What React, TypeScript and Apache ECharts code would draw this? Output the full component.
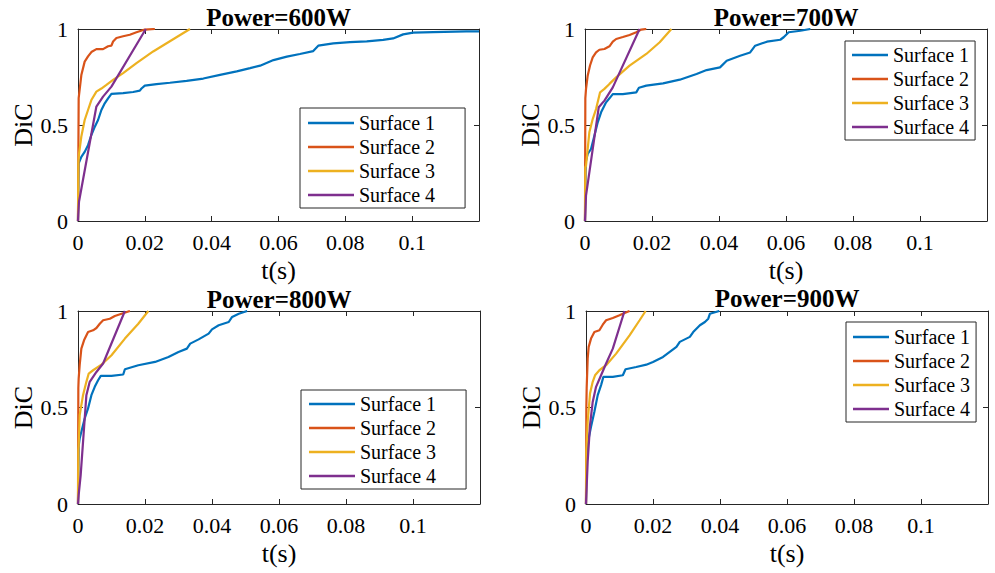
import React, { useEffect, useRef } from "react";
import * as echarts from "echarts";

// ---------- data (t in s, DiC) ----------
const titles = ["Power=600W", "Power=700W", "Power=800W", "Power=900W"];
const seriesNames = ["Surface 1", "Surface 2", "Surface 3", "Surface 4"];
const colors = ["#0072BD", "#D95319", "#EDB120", "#7E2F8E"];
const xTicks = [0, 0.02, 0.04, 0.06, 0.08, 0.1];
const yTicks = [0, 0.5, 1];

const p600s1 = [[0,0],[0.0002,0.3],[0.001,0.334],[0.002,0.36],[0.003,0.395],[0.004,0.448],[0.005,0.49],[0.006,0.526],[0.007,0.578],[0.008,0.613],[0.009,0.639],[0.01,0.662],[0.0135,0.666],[0.0165,0.672],[0.0185,0.679],[0.019,0.69],[0.02,0.705],[0.0235,0.713],[0.0275,0.72],[0.0325,0.73],[0.0375,0.742],[0.0425,0.761],[0.0475,0.779],[0.0515,0.796],[0.0545,0.809],[0.0585,0.838],[0.0625,0.856],[0.0664,0.87],[0.0704,0.885],[0.0719,0.913],[0.0764,0.925],[0.0814,0.932],[0.0864,0.936],[0.0913,0.943],[0.0943,0.951],[0.0973,0.972],[0.1003,0.981],[0.1063,0.984],[0.1162,0.988],[0.12,0.988]];
const p600s2 = [[0,0],[0.0002,0.64],[0.001,0.76],[0.002,0.83],[0.003,0.857],[0.004,0.88],[0.0055,0.895],[0.0075,0.895],[0.009,0.91],[0.01,0.913],[0.0105,0.935],[0.0115,0.953],[0.0135,0.962],[0.0155,0.97],[0.0175,0.983],[0.02,0.997],[0.023,1]];
const p600s3 = [[0,0],[0.0001,0.3],[0.0003,0.35],[0.001,0.44],[0.002,0.526],[0.003,0.578],[0.004,0.63],[0.0055,0.674],[0.007,0.69],[0.0085,0.709],[0.0105,0.735],[0.0135,0.77],[0.0175,0.822],[0.0225,0.883],[0.0275,0.936],[0.0335,1]];
const p600s4 = [[0,0],[0.0001,0.04],[0.0003,0.1],[0.0055,0.596],[0.0075,0.648],[0.01,0.7],[0.0203,1]];

const p700s1 = [[0,0],[0.0002,0.306],[0.0008,0.349],[0.0018,0.375],[0.0028,0.444],[0.0038,0.514],[0.0048,0.566],[0.0063,0.618],[0.0073,0.639],[0.0083,0.661],[0.0113,0.661],[0.0153,0.67],[0.0161,0.694],[0.0183,0.705],[0.0233,0.717],[0.0283,0.736],[0.0333,0.766],[0.0363,0.786],[0.0403,0.8],[0.0423,0.835],[0.0463,0.861],[0.0493,0.878],[0.0508,0.913],[0.0543,0.934],[0.0583,0.944],[0.0593,0.957],[0.0608,0.983],[0.0643,0.991],[0.0673,1]];
const p700s2 = [[0,0],[0.0001,0.64],[0.0003,0.687],[0.0008,0.757],[0.0015,0.81],[0.0023,0.852],[0.0033,0.878],[0.0043,0.892],[0.0058,0.896],[0.0073,0.91],[0.0083,0.934],[0.0093,0.948],[0.0113,0.958],[0.0133,0.969],[0.0153,0.983],[0.0168,0.997],[0.0183,1]];
const p700s3 = [[0,0],[0.0001,0.28],[0.0003,0.288],[0.0013,0.462],[0.0023,0.531],[0.0033,0.583],[0.0045,0.67],[0.0058,0.688],[0.0073,0.714],[0.0093,0.748],[0.0133,0.809],[0.0183,0.87],[0.0223,0.931],[0.0258,1]];
const p700s4 = [[0,0],[0.0001,0.04],[0.0003,0.132],[0.0041,0.592],[0.0058,0.627],[0.0083,0.696],[0.0163,1]];

const p800s1 = [[0,0],[0.0002,0.3],[0.0005,0.34],[0.001,0.374],[0.002,0.443],[0.003,0.495],[0.004,0.564],[0.005,0.607],[0.006,0.641],[0.0068,0.664],[0.01,0.664],[0.0135,0.671],[0.014,0.698],[0.018,0.719],[0.023,0.736],[0.027,0.762],[0.03,0.788],[0.0325,0.805],[0.0335,0.831],[0.036,0.853],[0.039,0.883],[0.04,0.905],[0.042,0.926],[0.045,0.943],[0.046,0.969],[0.048,0.986],[0.0505,1]];
const p800s2 = [[0,0],[0.0001,0.6],[0.0002,0.65],[0.0005,0.719],[0.001,0.805],[0.0018,0.848],[0.003,0.891],[0.0045,0.9],[0.0055,0.912],[0.0065,0.934],[0.0075,0.952],[0.0095,0.96],[0.011,0.974],[0.013,0.986],[0.0155,1]];
const p800s3 = [[0,0],[0.0001,0.28],[0.0002,0.305],[0.0005,0.46],[0.0015,0.564],[0.0025,0.633],[0.0032,0.676],[0.0045,0.693],[0.007,0.722],[0.01,0.771],[0.014,0.857],[0.018,0.934],[0.021,1]];
const p800s4 = [[0,0],[0.0002,0.047],[0.0008,0.15],[0.0025,0.564],[0.0035,0.633],[0.0055,0.684],[0.0075,0.728],[0.014,1]];

const p900s1 = [[0,0],[0.0002,0.253],[0.0008,0.34],[0.0015,0.4],[0.0025,0.478],[0.0035,0.564],[0.0045,0.616],[0.0052,0.659],[0.008,0.659],[0.011,0.667],[0.0118,0.698],[0.015,0.71],[0.018,0.722],[0.02,0.736],[0.023,0.762],[0.025,0.788],[0.027,0.814],[0.028,0.84],[0.031,0.866],[0.032,0.891],[0.034,0.926],[0.0355,0.943],[0.0365,0.96],[0.037,0.986],[0.0398,1]];
const p900s2 = [[0,0],[0.0001,0.5],[0.0002,0.6],[0.0005,0.753],[0.0008,0.814],[0.0015,0.857],[0.0025,0.891],[0.004,0.9],[0.005,0.929],[0.006,0.952],[0.008,0.964],[0.01,0.978],[0.011,0.986],[0.013,1]];
const p900s3 = [[0,0],[0.0001,0.28],[0.0002,0.305],[0.0005,0.426],[0.0012,0.572],[0.002,0.633],[0.0027,0.667],[0.004,0.693],[0.006,0.719],[0.009,0.779],[0.013,0.874],[0.016,0.952],[0.0178,1]];
const p900s4 = [[0,0],[0.0001,0.047],[0.0005,0.219],[0.0012,0.409],[0.002,0.529],[0.003,0.607],[0.0045,0.667],[0.006,0.728],[0.008,0.805],[0.0115,1]];

const panels = [
  [p600s1, p600s2, p600s3, p600s4],
  [p700s1, p700s2, p700s3, p700s4],
  [p800s1, p800s2, p800s3, p800s4],
  [p900s1, p900s2, p900s3, p900s4],
];

// ---------- layout ----------
const FONT = "Liberation Serif, Times New Roman, serif";
const AX = "#262626";
const grids = [
  { left: 78, top: 29, width: 401, height: 192 },
  { left: 585, top: 29, width: 402, height: 192 },
  { left: 78, top: 311, width: 402, height: 193 },
  { left: 586, top: 311, width: 402, height: 193 },
];
const legends = [
  { left: 300, top: 108, padding: [5, 30, 3, 8], itemWidth: 46 },
  { left: 845, top: 41, padding: [4, 6, 3, 7], itemWidth: 36 },
  { left: 301, top: 390, padding: [4, 30, 3, 8], itemWidth: 46 },
  { left: 846, top: 322, padding: [5, 6, 3, 7], itemWidth: 36 },
];
const titleTops = [5, 5, 287, 286];

const fmt = (v: number) => {
  const r = Math.round(v * 1000) / 1000;
  if (r > xTicks[xTicks.length - 1] + 1e-9) return "";
  return String(r);
};

function buildOption() {
  const xAxis: any[] = [];
  const yAxis: any[] = [];
  const series: any[] = [];
  const legend: any[] = [];
  const graphic: any[] = [];
  grids.forEach((g, i) => {
    const common = {
      gridIndex: i,
      type: "value",
      splitLine: { show: false },
      axisLine: { show: true, onZero: false, lineStyle: { color: AX, width: 1 } },
      axisTick: { show: true, inside: true, length: 5, lineStyle: { color: AX, width: 1 } },
    };
    xAxis.push({
      ...common,
      position: "bottom",
      min: 0,
      max: 0.12,
      interval: xTicks[1] - xTicks[0],
      axisLabel: { margin: 10, fontSize: 22, color: "#000", fontFamily: FONT, formatter: fmt },
      name: "t(s)",
      nameLocation: "middle",
      nameGap: 36,
      nameTextStyle: { fontSize: 26, fontFamily: FONT, color: "#000" },
    });
    xAxis.push({
      ...common,
      position: "top",
      min: 0,
      max: 0.12,
      interval: xTicks[1] - xTicks[0],
      axisLabel: { show: false },
    });
    yAxis.push({
      ...common,
      position: "left",
      min: yTicks[0],
      max: yTicks[yTicks.length - 1],
      interval: yTicks[1] - yTicks[0],
      axisLabel: { margin: 10, fontSize: 22, color: "#000", fontFamily: FONT, formatter: (v: number) => String(v) },
      name: "DiC",
      nameLocation: "middle",
      nameGap: 40,
      nameTextStyle: { fontSize: 26, fontFamily: FONT, color: "#000" },
    });
    yAxis.push({
      ...common,
      position: "right",
      min: yTicks[0],
      max: yTicks[yTicks.length - 1],
      interval: yTicks[1] - yTicks[0],
      axisLabel: { show: false },
    });
    panels[i].forEach((d, k) => {
      series.push({
        type: "line",
        name: seriesNames[k],
        xAxisIndex: i * 2,
        yAxisIndex: i * 2,
        data: d,
        symbol: "none",
        color: colors[k],
        lineStyle: { width: 2.2, color: colors[k] },
        z: 2 + k,
      });
    });
    const L = legends[i];
    legend.push({
      data: seriesNames.map((n) => ({ name: n, icon: "rect" })),
      orient: "vertical",
      left: L.left,
      top: L.top,
      padding: L.padding,
      itemWidth: L.itemWidth,
      itemHeight: 2.5,
      itemGap: 4,
      selectedMode: false,
      borderColor: AX,
      borderWidth: 1,
      backgroundColor: "#fff",
      textStyle: { fontSize: 20, fontFamily: FONT, color: "#000", lineHeight: 20, height: 20 },
    });
    graphic.push({
      type: "text",
      x: g.left + g.width / 2,
      y: titleTops[i],
      style: {
        text: titles[i],
        font: `bold 25px ${FONT}`,
        fill: "#000",
        align: "center",
        verticalAlign: "top",
      },
    });
  });
  return {
    animation: false,
    backgroundColor: "#fff",
    textStyle: { fontFamily: FONT },
    grid: grids.map((g) => ({ ...g, containLabel: false })),
    xAxis,
    yAxis,
    series,
    legend,
    graphic,
  };
}

export default function App() {
  const ref = useRef<HTMLDivElement>(null);
  useEffect(() => {
    if (!ref.current) return;
    const chart = echarts.init(ref.current, undefined, { renderer: "svg" });
    chart.setOption(buildOption());
    return () => chart.dispose();
  }, []);
  return (
    <div
      ref={ref}
      style={{ position: "fixed", left: 0, top: 0, width: 995, height: 573, background: "#fff" }}
    />
  );
}
